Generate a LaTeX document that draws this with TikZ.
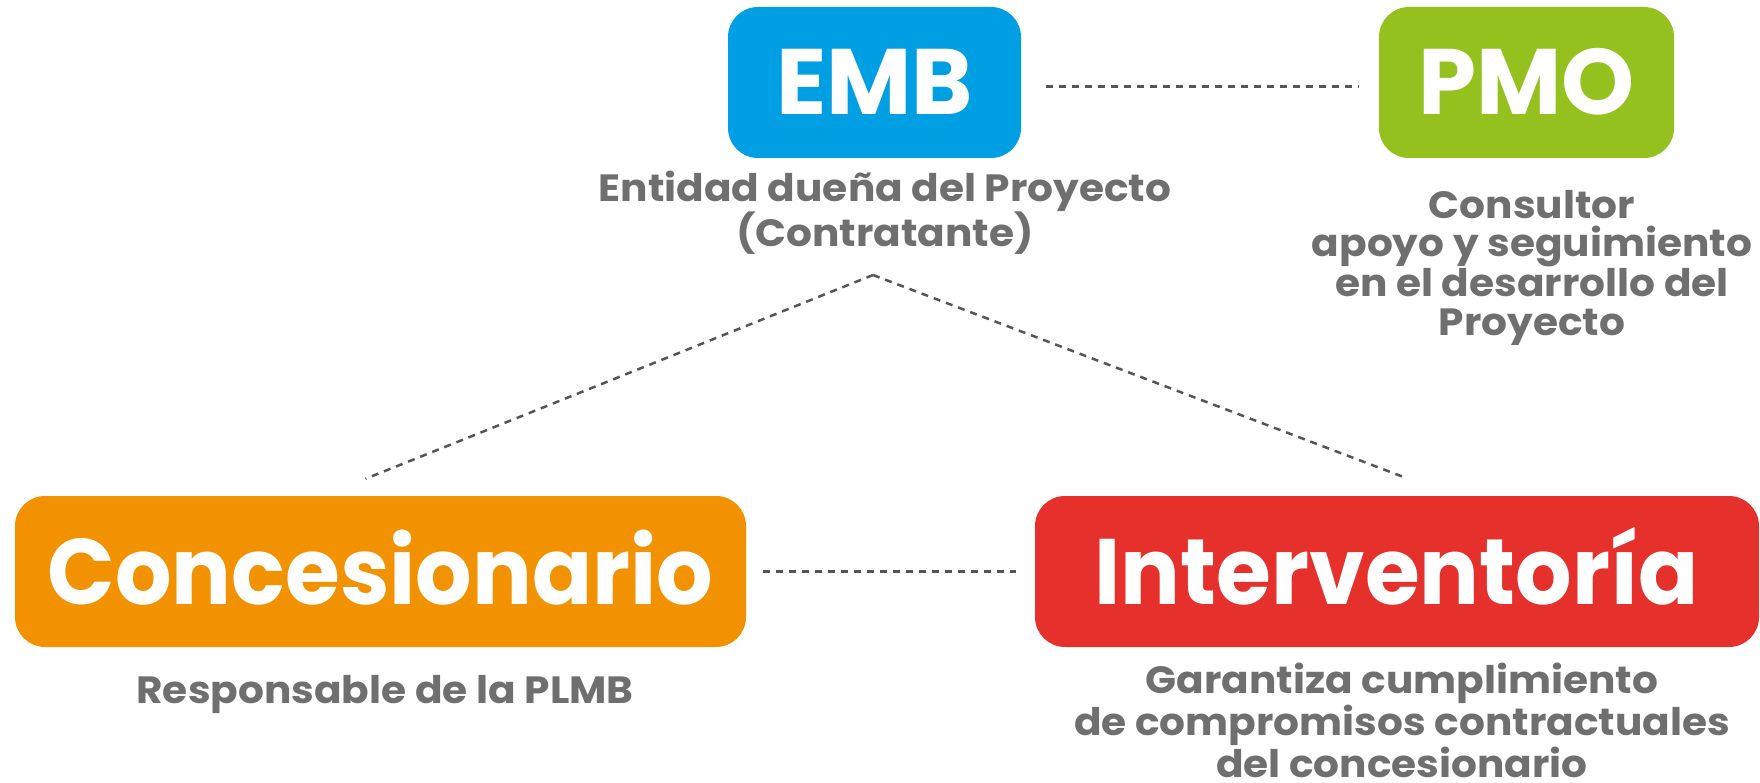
\documentclass[tikz,border=0pt]{standalone}
\usepackage{fontspec}
\setmainfont{Poppins}
\newfontfamily\descfont{Poppins}[FakeStretch=1.07]
\newfontfamily\narrowfont{Poppins}[FakeStretch=0.955]
\definecolor{embblue}{HTML}{009FE3}
\definecolor{pmogreen}{HTML}{95C11F}
\definecolor{concorange}{HTML}{F39200}
\definecolor{intred}{HTML}{E6302B}
\definecolor{labelgray}{HTML}{6F6F6F}
\definecolor{linegray}{HTML}{555555}
\begin{document}
\begin{tikzpicture}[x=1pt,y=-1pt,
  box/.style={rounded corners=30pt, minimum height=151pt, inner sep=0pt, text=white,
    font=\fontsize{93}{93}\selectfont\bfseries, text height=65pt, text depth=0pt},
  narrowbox/.style={box, font=\narrowfont\fontsize{93}{93}\selectfont\bfseries},
  desc/.style={text=labelgray, align=center, inner sep=0pt,
    font=\descfont\fontsize{38}{39}\selectfont\bfseries},
  link/.style={draw=linegray, line width=2.5pt, dash pattern=on 7pt off 6pt}]
\useasboundingbox (0,0) rectangle (1760,783);
\node[box, fill=embblue, minimum width=293pt] (emb) at (874.5,82.5) {EMB};
\node[box, fill=pmogreen, minimum width=295pt] (pmo) at (1526.5,82.5) {PMO};
\node[narrowbox, fill=concorange, minimum width=731pt] (conc) at (380.5,571.5) {Concesionario};
\node[narrowbox, fill=intred, minimum width=724pt] (inter) at (1397,571.5) {Interventoría};
\node[desc, anchor=base] (embl) at (885,247) {Entidad dueña del Proyecto\\(Contratante)};
\node[desc, anchor=base] (pmol) at (1532,335) {Consultor\\apoyo y seguimiento\\en el desarrollo del\\Proyecto};
\node[desc, anchor=base] (concl) at (385,703) {Responsable de la PLMB};
\node[desc, anchor=base] (interl) at (1402,777) {Garantiza cumplimiento\\de compromisos contractuales\\del concesionario};
\coordinate (apex) at (873,275);
\draw[link] ([xshift=25pt,yshift=-4pt]emb.east) -- ([xshift=-20pt,yshift=-4pt]pmo.west);
\draw[link] ([xshift=17pt]conc.east) -- ([xshift=-19pt]inter.west);
\draw[link] (apex) -- ([xshift=-15pt,yshift=17pt]conc.north);
\draw[link] (apex) -- ([xshift=6pt,yshift=19pt]inter.north);
\end{tikzpicture}
\end{document}
